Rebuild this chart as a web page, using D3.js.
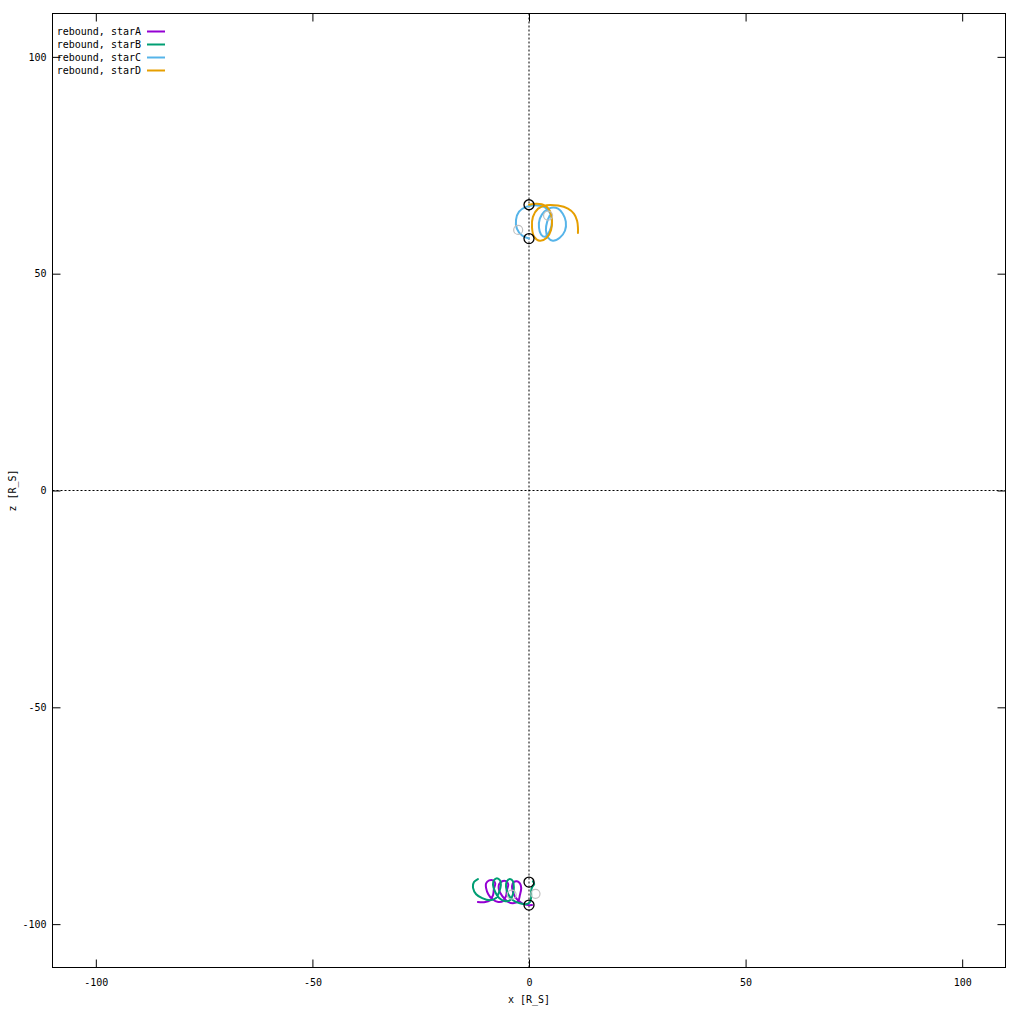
<!DOCTYPE html>
<html><head><meta charset="utf-8">
<script src="https://cdn.jsdelivr.net/npm/d3@7"></script>
<style>
body{margin:0;background:#fff}
text{font-family:"DejaVu Sans Mono","Liberation Mono",monospace;font-size:10px;fill:#000}
</style>
</head><body>
<svg id="chart" width="1024" height="1024"></svg>
<script>
// ---- data ----
const xTicks = [-100, -50, 0, 50, 100];
const zTicks = [-100, -50, 0, 50, 100];
const xDomain = [-110, 110];
const zDomain = [-110, 110];
const seriesNames = ["rebound, starA", "rebound, starB", "rebound, starC", "rebound, starD"];

const starA = [[-11.8,-94.9],[-10.1,-94.9],[-9.0,-94.5],[-8.3,-93.3],[-8.1,-91.9],[-7.8,-90.6],[-8.3,-89.9],[-9.2,-89.9],[-9.9,-90.6],[-9.9,-91.7],[-9.4,-93.1],[-8.5,-94.2],[-7.1,-94.9],[-6.0,-94.7],[-5.3,-93.5],[-5.1,-92.2],[-4.8,-90.8],[-5.3,-90.1],[-6.2,-90.1],[-6.9,-90.8],[-6.9,-92.2],[-6.2,-93.5],[-5.1,-94.7],[-3.7,-95.2],[-2.5,-94.7],[-2.1,-93.3],[-1.8,-91.7],[-2.1,-90.6],[-2.8,-90.1],[-3.5,-90.3],[-3.9,-91.2],[-3.7,-92.6],[-3.0,-94.0],[-1.6,-95.2],[-0.2,-95.6],[0.7,-95.6]];
const starB = [[-11.8,-89.6],[-12.7,-90.3],[-12.9,-91.7],[-12.2,-93.1],[-10.8,-94.0],[-9.0,-94.5],[-7.6,-94.0],[-6.9,-92.6],[-6.5,-91.0],[-6.7,-89.9],[-7.4,-89.4],[-8.1,-89.9],[-8.3,-91.0],[-7.8,-92.6],[-6.9,-94.0],[-5.5,-94.7],[-4.4,-94.5],[-3.7,-93.1],[-3.5,-91.5],[-3.7,-90.1],[-4.4,-89.6],[-5.1,-90.1],[-5.3,-91.5],[-4.8,-93.1],[-3.7,-94.5],[-2.1,-95.2],[-0.7,-95.4],[0.2,-94.9],[0.5,-93.8],[0.5,-92.4],[0.7,-91.5],[1.2,-90.8],[0.9,-90.1]];
const starC = [[0.0,58.1],[-1.6,58.8],[-2.8,60.4],[-3.0,62.4],[-2.3,64.3],[-0.7,65.4],[1.4,65.8],[3.5,65.4],[4.8,64.1],[5.3,62.0],[4.8,59.9],[3.7,58.5],[2.8,59.0],[2.3,60.6],[2.5,62.7],[3.5,64.3],[5.1,65.2],[6.7,65.0],[7.8,63.8],[8.5,62.0],[8.3,59.9],[7.1,58.3],[5.5,57.6],[4.4,58.3],[3.9,60.1],[4.2,62.0],[4.8,63.4]];
const starD = [[0.0,65.9],[1.8,66.1],[3.7,65.7],[4.8,64.5],[5.3,62.4],[5.1,60.1],[4.1,58.3],[2.5,57.6],[1.2,58.5],[0.7,60.6],[0.9,63.1],[2.1,65.0],[4.1,65.8],[6.7,65.7],[9.0,65.0],[10.4,63.8],[11.1,62.2],[11.3,60.6],[11.3,59.4]];
const startMarkers = [[0,65.9],[0,58.1],[0,-90.3],[0,-95.6]];
const refMarkers = [[-2.5,60.1],[4.4,63.4],[-4.0,-93.2],[1.5,-93.0]];

// ---- styles ----
const seriesColors = ["#9400d3", "#009e73", "#56b4e9", "#e69f00"];
const series = [starA, starB, starC, starD];

const L = 52.5, R = 1005.5, T = 13.5, B = 967.5;
const svg = d3.select("#chart");
const x = d3.scaleLinear().domain(xDomain).range([L, R]);
const y = d3.scaleLinear().domain(zDomain).range([B, T]);
const fmt = d => String(d);

// zero axes (dotted)
svg.append("line").attr("x1", x(0)).attr("x2", x(0)).attr("y1", T).attr("y2", B)
  .attr("stroke", "#000").attr("stroke-width", 1).attr("stroke-dasharray", "2,2");
svg.append("line").attr("x1", L).attr("x2", R).attr("y1", y(0)).attr("y2", y(0))
  .attr("stroke", "#000").attr("stroke-width", 1).attr("stroke-dasharray", "2,2");

// axes with inward ticks
function styleAxis(g){ g.select(".domain").remove(); g.selectAll("line").attr("stroke","#000"); g.selectAll("text").attr("font-family",null).attr("font-size",null); }
svg.append("g").attr("transform", `translate(0,${B})`)
  .call(d3.axisBottom(x).tickValues(xTicks).tickSize(-8).tickPadding(11).tickFormat(fmt)).call(styleAxis);
svg.append("g").attr("transform", `translate(0,${T})`)
  .call(d3.axisTop(x).tickValues(xTicks).tickSize(-8).tickFormat("")).call(styleAxis);
svg.append("g").attr("transform", `translate(${L},0)`)
  .call(d3.axisLeft(y).tickValues(zTicks).tickSize(-8).tickPadding(6).tickFormat(fmt)).call(styleAxis);
svg.append("g").attr("transform", `translate(${R},0)`)
  .call(d3.axisRight(y).tickValues(zTicks).tickSize(-8).tickFormat("")).call(styleAxis);

// border
svg.append("rect").attr("x", L).attr("y", T).attr("width", R - L).attr("height", B - T)
  .attr("fill", "none").attr("stroke", "#000").attr("stroke-width", 1);

// curves
const line = d3.line().x(d => x(d[0])).y(d => y(d[1])).curve(d3.curveCatmullRom.alpha(0.5));
series.forEach((s, i) => {
  svg.append("path").datum(s).attr("d", line).attr("fill", "none")
    .attr("stroke", seriesColors[i]).attr("stroke-width", 2)
    .attr("stroke-linejoin", "round").attr("stroke-linecap", "round");
});

// reference markers (gray) and start markers (black)
svg.selectAll(".ref").data(refMarkers).enter().append("circle")
  .attr("cx", d => x(d[0])).attr("cy", d => y(d[1])).attr("r", 4.5)
  .attr("fill", "none").attr("stroke", "#c0c0c0").attr("stroke-width", 1.2);
svg.selectAll(".start").data(startMarkers).enter().append("circle")
  .attr("cx", d => x(d[0])).attr("cy", d => y(d[1])).attr("r", 5)
  .attr("fill", "none").attr("stroke", "#000").attr("stroke-width", 1.3);

// legend
const leg = svg.append("g");
seriesNames.forEach((n, i) => {
  const cy = 31.5 + 13 * i;
  leg.append("text").attr("x", 141).attr("y", cy + 3.5).attr("text-anchor", "end").text(n);
  leg.append("line").attr("x1", 147).attr("x2", 165).attr("y1", cy).attr("y2", cy)
    .attr("stroke", seriesColors[i]).attr("stroke-width", 2);
});

// axis titles
svg.append("text").attr("x", x(0)).attr("y", 1003).attr("text-anchor", "middle").text("x [R_S]");
svg.append("text").attr("transform", `translate(16,${y(0)}) rotate(-90)`).attr("text-anchor", "middle").text("z [R_S]");
</script>
</body></html>
